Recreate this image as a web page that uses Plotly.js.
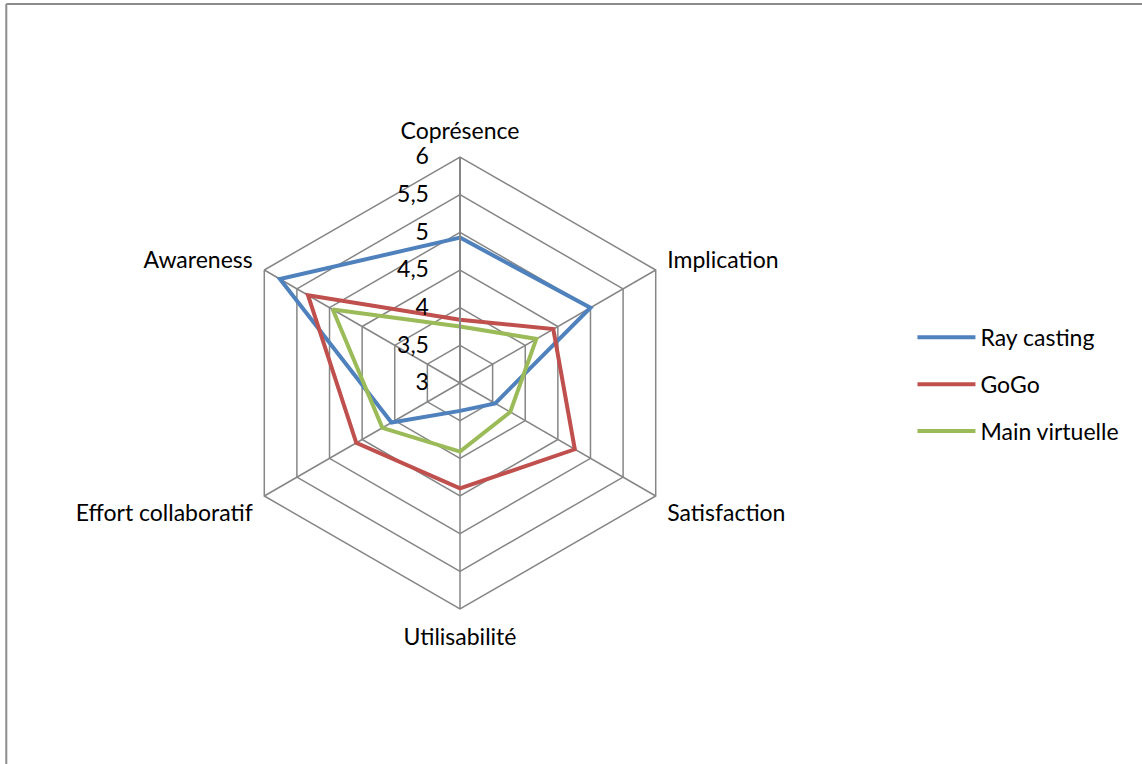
<!DOCTYPE html>
<html>
<head>
<meta charset="utf-8">
<script src="https://cdn.plot.ly/plotly-3.0.1.min.js"></script>
<style>
  body { margin: 0; background: #fff; }
  #chart { width: 1142px; height: 764px; }
</style>
</head>
<body>
<div id="chart"></div>
<script>
// radar chart: three interaction techniques over six criteria

var criteria = ['Coprésence', 'Implication', 'Satisfaction', 'Utilisabilité', 'Effort collaboratif', 'Awareness'];
var rayCasting = [4.93, 5.0, 3.54, 3.37, 4.05, 5.76];
var gogo = [3.84, 4.43, 4.76, 4.40, 4.59, 5.33];
var mainVirtuelle = [3.75, 4.17, 3.77, 3.91, 4.19, 4.95];
var seriesNames = ['Ray casting', 'GoGo', 'Main virtuelle'];
var radialTicks = [3, 3.5, 4, 4.5, 5, 5.5, 6];

// close the polygon by repeating the first point
function closed(arr) {
    return arr.concat([arr[0]]);
}

var colors = ['#4F81BD', '#C0504D', '#9BBB59'];
var allSeries = [rayCasting, gogo, mainVirtuelle];

var data = allSeries.map(function(vals, i) {
    return {
        type: 'scatterpolar',
        r: closed(vals),
        theta: closed(criteria),
        mode: 'lines',
        name: seriesNames[i],
        legendgroup: 'g' + i,
        line: { color: colors[i], width: 4 },
        hoverinfo: 'skip'
    };
});

var gridCol = '#868686';
var fsize = 23;

var layout = {
    width: 1142,
    height: 764,
    margin: { l: 0, r: 0, t: 0, b: 0 },
    paper_bgcolor: '#fff',
    separators: ', ',
    font: { family: 'Lato, "Open Sans", sans-serif', size: fsize, color: '#000' },
    showlegend: true,
    legend: {
        x: 0.799,
        y: 0.497,
        xanchor: 'left',
        yanchor: 'middle',
        tracegroupgap: 14,
        itemwidth: 58,
        font: { size: fsize, color: '#000' },
        bgcolor: 'rgba(0,0,0,0)'
    },
    polar: {
        domain: { x: [0.2049, 0.6007], y: [0.2029, 0.7945] },
        gridshape: 'linear',
        bgcolor: '#fff',
        radialaxis: {
            range: [3, 6],
            tickvals: radialTicks,
            angle: 90,
            side: 'counterclockwise',
            tickangle: 90,
            showline: true,
            linecolor: gridCol,
            linewidth: 2,
            gridcolor: gridCol,
            gridwidth: 1.5,
            ticks: 'outside',
            ticklen: 22,
            tickcolor: 'rgba(0,0,0,0)',
            tickfont: { size: fsize, color: '#000' }
        },
        angularaxis: {
            rotation: 90,
            direction: 'clockwise',
            showline: true,
            linecolor: gridCol,
            linewidth: 1.5,
            gridcolor: gridCol,
            gridwidth: 1.5,
            ticks: 'outside',
            ticklen: 8,
            tickcolor: 'rgba(0,0,0,0)',
            tickfont: { size: fsize, color: '#000' }
        }
    },
    shapes: [
        { type: 'line', xref: 'paper', yref: 'paper', x0: 0.0055, x1: 0.0055, y0: 0, y1: 0.9948,
          line: { color: '#8c8c8c', width: 2 } },
        { type: 'line', xref: 'paper', yref: 'paper', x0: 0.0055, x1: 1, y0: 0.9948, y1: 0.9948,
          line: { color: '#8c8c8c', width: 2 } }
    ]
};

Plotly.newPlot('chart', data, layout, { staticPlot: true });
</script>
</body>
</html>
